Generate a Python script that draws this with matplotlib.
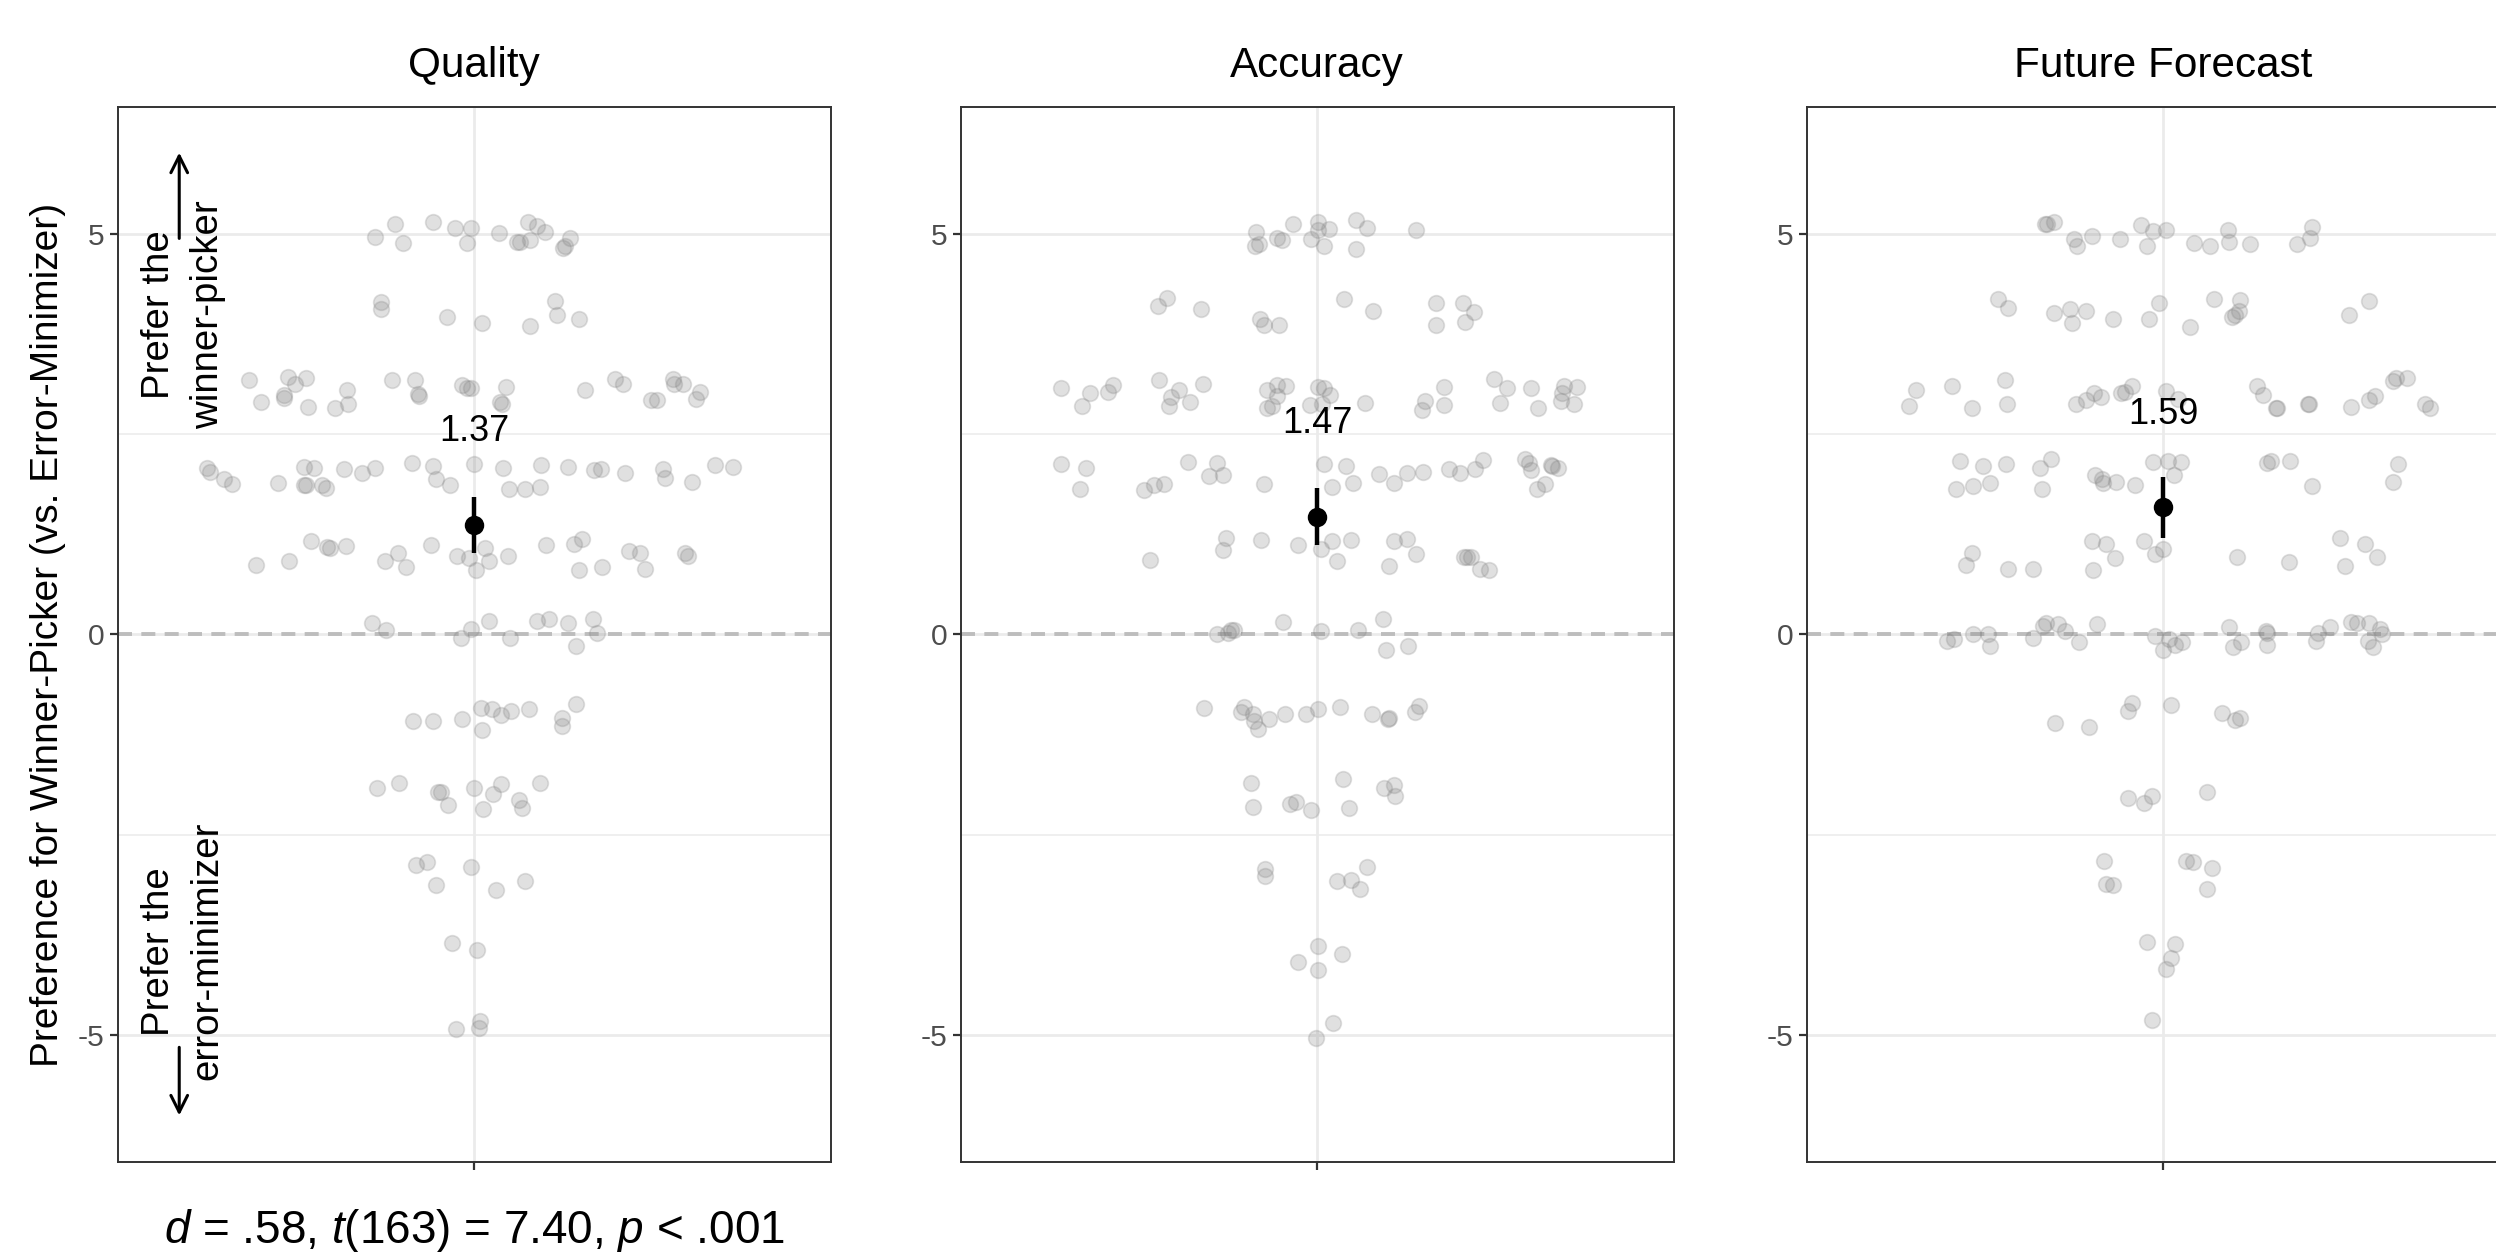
import matplotlib
matplotlib.use("Agg")
import matplotlib.pyplot as plt

plt.rcParams['font.family'] = ['Liberation Sans', 'DejaVu Sans']
plt.rcParams['mathtext.fontset'] = 'custom'
plt.rcParams['mathtext.rm'] = 'Liberation Sans'
plt.rcParams['mathtext.it'] = 'Liberation Sans:italic'
plt.rcParams['axes.unicode_minus'] = False

# --- data -----------------------------------------------------------------
panel_titles = ['Quality', 'Accuracy', 'Future Forecast']
means = [1.37, 1.47, 1.59]
ci_low = [1.01, 1.11, 1.20]
ci_high = [1.71, 1.83, 1.96]
stats_text = r'$d$ = .58, $t$(163) = 7.40, $p$ < .001'

# jittered responses (x offset from the category centre, y = rating + jitter)
quality_x = [
    -0.168, -0.134, -0.121, -0.070, -0.032, -0.013, -0.006, 0.041, 0.071, 0.077, 0.090, 0.094, 0.106, 0.119, 0.149, 0.153, 0.161,
    -0.157, -0.157, -0.046, 0.013, 0.093, 0.136, 0.139, 0.177,
    -0.379, -0.360, -0.320, -0.320, -0.313, -0.302, -0.284, -0.280, -0.234, -0.214, -0.213, -0.138, -0.100, -0.095, -0.094, -0.021,
    -0.013, -0.006, 0.044, 0.047, 0.054, 0.186, 0.236, 0.251, 0.298, 0.308, 0.335, 0.337, 0.352, 0.380, 0.374,
    -0.451, -0.445, -0.422, -0.408, -0.330, -0.287, -0.270, -0.287, -0.284, -0.256, -0.250, -0.219, -0.189, -0.167, -0.105, -0.069,
    -0.064, -0.041, 0.000, 0.049, 0.058, 0.086, 0.110, 0.112, 0.158, 0.202, 0.213, 0.253, 0.318, 0.321, 0.367, 0.406, 0.435,
    -0.367, -0.312, -0.275, -0.248, -0.243, -0.217, -0.150, -0.129, -0.115, -0.073, -0.030, -0.009, 0.002, 0.018, 0.024, 0.057,
    0.121, 0.168, 0.181, 0.176, 0.215, 0.261, 0.279, 0.288, 0.354, 0.359,
    -0.172, -0.148, -0.022, -0.006, 0.024, 0.060, 0.106, 0.125, 0.157, 0.200, 0.207, 0.171,
    -0.103, -0.070, -0.020, 0.012, 0.013, 0.030, 0.045, 0.062, 0.092, 0.147, 0.147, 0.171,
    -0.164, -0.127, -0.062, -0.057, -0.045, -0.001, 0.015, 0.031, 0.045, 0.076, 0.080, 0.110,
    -0.099, -0.080, -0.005, -0.064, 0.036, 0.085,
    -0.037, 0.005,
    -0.031, 0.009, 0.007,
]
quality_y = [
    4.96, 5.12, 4.88, 5.15, 5.07, 4.88, 5.07, 5.01, 4.90, 4.90, 5.15, 4.92, 5.10, 5.02, 4.82, 4.85, 4.95,
    4.15, 4.06, 3.96, 3.89, 3.85, 4.16, 3.98, 3.94,
    3.17, 2.90, 2.99, 2.95, 3.21, 3.13, 3.20, 2.84, 2.83, 3.05, 2.87, 3.17, 3.17, 3.00, 2.97, 3.11,
    3.08, 3.08, 2.90, 2.88, 3.09, 3.05, 3.19, 3.12, 2.92, 2.92, 3.19, 3.13, 3.12, 3.03, 2.94,
    2.07, 2.03, 1.94, 1.88, 1.89, 2.09, 2.08, 1.87, 1.86, 1.87, 1.83, 2.06, 2.01, 2.08, 2.14, 2.10,
    1.94, 1.87, 2.12, 2.08, 1.82, 1.81, 1.84, 2.11, 2.09, 2.05, 2.06, 2.01, 2.06, 1.95, 1.90, 2.11, 2.09,
    0.87, 0.91, 1.16, 1.09, 1.08, 1.10, 0.91, 1.01, 0.84, 1.11, 0.98, 0.95, 0.81, 1.08, 0.92, 0.98,
    1.11, 1.13, 1.19, 0.81, 0.84, 1.04, 1.01, 0.82, 1.01, 0.98,
    0.14, 0.05, -0.04, 0.07, 0.17, -0.04, 0.17, 0.19, 0.14, 0.19, 0.02, -0.15,
    -1.08, -1.08, -1.06, -0.92, -1.19, -0.93, -1.00, -0.96, -0.93, -1.04, -1.14, -0.87,
    -1.92, -1.85, -1.96, -1.97, -2.13, -1.91, -2.18, -1.99, -1.87, -2.06, -2.16, -1.85,
    -2.87, -2.84, -2.90, -3.12, -3.19, -3.08,
    -3.85, -3.94,
    -4.92, -4.82, -4.91,
]

accuracy_x = [
    -0.103, -0.105, -0.098, -0.067, -0.059, -0.041, -0.011, 0.002, 0.002, 0.012, 0.020, 0.065, 0.066, 0.084, 0.167,
    -0.268, -0.253, -0.196, -0.097, -0.090, -0.064, 0.045, 0.094, 0.200, 0.200, 0.246, 0.264, 0.248,
    -0.432, -0.397, -0.383, -0.353, -0.344, -0.267, -0.249, -0.247, -0.232, -0.215, -0.193, -0.084, -0.067, -0.053, -0.067, -0.084,
    -0.076, -0.012, 0.002, 0.012, 0.021, 0.008, 0.080, 0.177, 0.182, 0.213, 0.213, 0.297, 0.320, 0.308, 0.360, 0.371, 0.415,
    0.412, 0.410, 0.438, 0.432,
    -0.432, -0.389, -0.399, -0.292, -0.275, -0.258, -0.217, -0.169, -0.182, -0.158, -0.089, 0.011, 0.048, 0.024, 0.061, 0.104,
    0.130, 0.151, 0.178, 0.222, 0.240, 0.265, 0.279, 0.350, 0.356, 0.360, 0.393, 0.396, 0.406, 0.384, 0.370,
    -0.282, -0.153, -0.159, -0.094, -0.032, 0.007, 0.024, 0.033, 0.056, 0.120, 0.129, 0.151, 0.167, 0.247, 0.252, 0.259, 0.274, 0.289,
    -0.168, -0.151, -0.145, -0.141, -0.057, 0.006, 0.069, 0.110, 0.115, 0.153,
    -0.190, -0.123, -0.129, -0.109, -0.106, -0.099, -0.082, -0.055, -0.019, 0.001, 0.039, 0.092, 0.119, 0.121, 0.164, 0.171,
    -0.112, -0.109, -0.046, -0.036, -0.011, 0.044, 0.054, 0.112, 0.130, 0.131,
    -0.088, -0.088, 0.033, 0.056, 0.072, 0.083,
    0.001, 0.041, -0.032, 0.001,
    0.026, -0.002,
]
accuracy_y = [
    5.02, 4.85, 4.87, 4.95, 4.92, 5.12, 4.93, 5.15, 5.05, 4.84, 5.06, 5.17, 4.81, 5.07, 5.05,
    4.10, 4.20, 4.06, 3.94, 3.86, 3.86, 4.18, 4.04, 4.14, 3.86, 4.14, 4.02, 3.90,
    3.08, 2.85, 3.01, 3.02, 3.11, 3.17, 2.85, 2.96, 3.05, 2.90, 3.13, 3.05, 3.11, 3.10, 2.97, 2.82,
    2.85, 2.86, 3.09, 3.07, 2.99, 2.87, 2.89, 2.80, 2.91, 3.09, 2.86, 3.19, 3.08, 2.89, 3.08, 2.83, 3.10,
    3.01, 2.91, 3.09, 2.87,
    2.13, 2.07, 1.81, 1.80, 1.86, 1.88, 2.15, 2.14, 1.98, 1.99, 1.88, 2.13, 2.10, 1.84, 1.89, 2.00,
    1.89, 2.02, 2.03, 2.06, 2.02, 2.06, 2.18, 2.19, 2.14, 2.05, 2.11, 2.10, 2.08, 1.88, 1.82,
    0.93, 1.20, 1.05, 1.18, 1.12, 1.06, 1.16, 0.91, 1.18, 0.86, 1.16, 1.19, 1.00, 0.97, 0.97, 0.97, 0.82, 0.81,
    0.00, 0.02, 0.05, 0.06, 0.16, 0.04, 0.06, 0.19, -0.19, -0.14,
    -0.92, -0.90, -0.97, -0.99, -1.08, -1.18, -1.06, -0.99, -0.99, -0.93, -0.90, -0.99, -1.05, -1.04, -0.97, -0.89,
    -1.85, -2.15, -2.11, -2.09, -2.19, -1.80, -2.17, -1.91, -1.88, -2.02,
    -2.93, -3.01, -3.07, -3.06, -3.17, -2.90,
    -3.88, -3.99, -4.08, -4.19,
    -4.85, -5.03,
]

forecast_x = [
    -0.199, -0.196, -0.184, -0.151, -0.145, -0.121, -0.073, -0.038, -0.027, -0.018, 0.005, 0.051, 0.078, 0.109, 0.110, 0.145,
    0.225, 0.247, 0.251,
    -0.278, -0.261, -0.184, -0.157, -0.154, -0.131, -0.085, -0.025, -0.007, 0.045, 0.085, 0.129, 0.128, 0.120, 0.115, 0.313, 0.346,
    -0.417, -0.428, -0.356, -0.322, -0.267, -0.263, -0.147, -0.130, -0.117, -0.105, -0.071, -0.065, -0.053, 0.005, 0.024, 0.157,
    0.168, 0.191, 0.190, 0.244, 0.246, 0.316, 0.346, 0.357, 0.386, 0.391, 0.410, 0.441, 0.449,
    -0.343, -0.304, -0.265, -0.208, -0.190, -0.349, -0.320, -0.292, -0.205, -0.116, -0.103, -0.101, -0.080, -0.048, -0.018, 0.008,
    0.029, 0.018, 0.174, 0.182, 0.213, 0.251, 0.395, 0.387,
    -0.322, -0.332, -0.261, -0.219, -0.120, -0.097, -0.082, -0.118, -0.032, -0.015, 0.000, 0.124, 0.212, 0.298, 0.340, 0.360, 0.306,
    -0.365, -0.352, -0.321, -0.295, -0.292, -0.220, -0.203, -0.197, -0.177, -0.165, -0.142, -0.111, -0.014, -0.001, 0.010, 0.019,
    0.031, 0.111, 0.117, 0.131, 0.173, 0.174, 0.174, 0.257, 0.261, 0.281, 0.316, 0.326, 0.346, 0.364, 0.368, 0.344, 0.353,
    -0.182, -0.126, -0.060, -0.053, 0.013, 0.099, 0.121, 0.129,
    -0.060, -0.032, -0.020, 0.073,
    -0.100, -0.097, -0.085, 0.038, 0.049, 0.082, 0.074,
    -0.027, 0.019, 0.013, 0.004,
    -0.020,
]
forecast_y = [
    5.12, 5.12, 5.15, 4.93, 4.84, 4.97, 4.93, 5.11, 4.84, 5.03, 5.04, 4.88, 4.84, 5.04, 4.89, 4.87,
    4.87, 4.95, 5.08,
    4.18, 4.07, 4.01, 4.06, 3.89, 4.04, 3.93, 3.94, 4.13, 3.83, 4.19, 4.17, 4.04, 3.99, 3.96, 3.99, 4.16,
    3.05, 2.85, 3.10, 2.82, 3.18, 2.88, 2.88, 2.92, 3.01, 2.96, 3.01, 3.03, 3.10, 3.04, 2.94, 3.10,
    2.99, 2.82, 2.82, 2.87, 2.87, 2.84, 2.93, 2.98, 3.16, 3.20, 3.20, 2.87, 2.83,
    2.16, 2.10, 2.13, 2.07, 2.19, 1.82, 1.85, 1.89, 1.82, 1.99, 1.94, 1.89, 1.90, 1.87, 2.15, 2.16,
    2.15, 1.99, 2.14, 2.16, 2.16, 1.85, 2.12, 1.90,
    1.01, 0.87, 0.82, 0.82, 1.16, 1.13, 0.95, 0.81, 1.16, 1.00, 1.06, 0.97, 0.90, 1.20, 1.13, 0.97, 0.85,
    -0.08, -0.06, 0.00, 0.00, -0.14, -0.04, 0.10, 0.14, 0.13, 0.04, -0.10, 0.13, -0.02, -0.19, -0.06, -0.13,
    -0.09, 0.09, -0.16, -0.10, 0.04, 0.02, -0.13, -0.08, 0.02, 0.09, 0.16, 0.14, 0.14, 0.07, 0.00, -0.08, -0.16,
    -1.10, -1.15, -0.95, -0.85, -0.88, -0.98, -1.07, -1.04,
    -2.04, -2.10, -2.02, -1.97,
    -2.82, -3.11, -3.12, -2.83, -2.84, -2.91, -3.17,
    -3.84, -3.86, -4.04, -4.17,
    -4.81,
]

panel_x = [quality_x, accuracy_x, forecast_x]
panel_y = [quality_y, accuracy_y, forecast_y]

# --- figure ---------------------------------------------------------------
fig = plt.figure(figsize=(12.48, 6.26), dpi=200)
lefts = [0.0473, 0.3850, 0.7240]
axes = []

for i in range(3):
    ax = fig.add_axes([lefts[i], 0.0719, 0.2855, 0.8427])
    axes.append(ax)
    ax.set_xlim(-0.6, 0.6)
    ax.set_ylim(-6.58, 6.58)

    ax.set_yticks([-5, 0, 5])
    ax.set_yticklabels(['-5', '0', '5'])
    ax.set_yticks([-2.5, 2.5], minor=True)
    ax.set_xticks([0])
    ax.set_xticklabels([''])
    ax.set_axisbelow(True)
    ax.grid(which='major', color='#ebebeb', lw=1.0)
    ax.grid(which='minor', axis='y', color='#ebebeb', lw=0.55)
    ax.tick_params(which='minor', length=0)
    ax.tick_params(which='major', length=3, width=0.8, color='#333333',
                   labelsize=10.8, labelcolor='#4d4d4d', pad=2)
    for sp in ax.spines.values():
        sp.set_color('#333333')
        sp.set_linewidth(0.7)

    ax.axhline(0, color='#bdbdbd', lw=1.4, ls=(0, (3.6, 2.4)), zorder=1)

    # individual responses
    ax.scatter(panel_x[i], panel_y[i], s=32, facecolor=(0.5, 0.5, 0.5, 0.24),
               edgecolor=(0.5, 0.5, 0.5, 0.24), linewidth=0.6, zorder=2)

    # mean and 95% CI
    m = means[i]
    ax.errorbar([0], [m], yerr=[[m - ci_low[i]], [ci_high[i] - m]], fmt='o',
                color='black', ms=6.0, elinewidth=1.6, capsize=0, zorder=3)
    ax.text(0, m + 1.04, f'{m:.2f}', ha='center', va='baseline', fontsize=13, zorder=4)

    ax.text(0.5, 1.028, panel_titles[i], transform=ax.transAxes, ha='center',
            va='baseline', fontsize=15.2)

ax1 = axes[0]
ax1.text(0.5, -0.077, stats_text, transform=ax1.transAxes, ha='center',
         va='baseline', fontsize=16.5)

# direction hints on the first panel
ax1.text(-0.49, 3.99, 'Prefer the\nwinner-picker', rotation=90, ha='center', va='center',
         multialignment='center', fontsize=13.8, linespacing=1.45)
ax1.text(-0.49, -3.95, 'Prefer the\nerror-minimizer', rotation=90, ha='center', va='center',
         multialignment='center', fontsize=13.8, linespacing=1.45)
ax1.annotate('', xy=(-0.497, 6.01), xytext=(-0.497, 4.94),
             arrowprops=dict(arrowstyle='->', lw=1.1, color='black',
                             shrinkA=0, shrinkB=0, mutation_scale=15))
ax1.annotate('', xy=(-0.497, -6.0), xytext=(-0.497, -5.15),
             arrowprops=dict(arrowstyle='->', lw=1.1, color='black',
                             shrinkA=0, shrinkB=0, mutation_scale=15))

fig.text(0.0192, 0.493, 'Preference for Winner-Picker (vs. Error-Minimizer)', rotation=90,
         ha='center', va='center', fontsize=14)

fig.savefig('out.png', dpi=200, facecolor='white')
